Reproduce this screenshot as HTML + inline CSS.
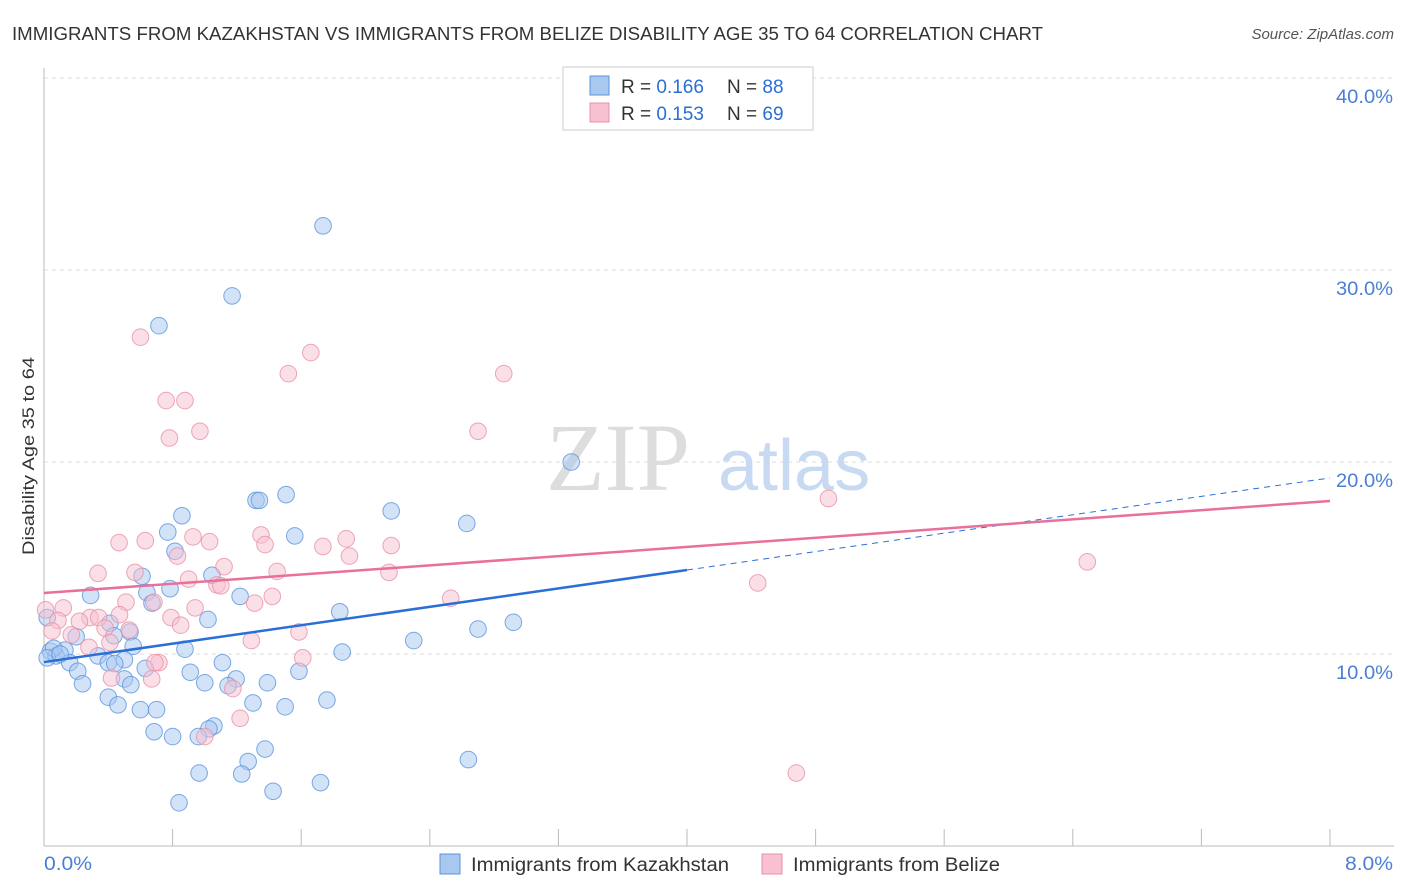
<!DOCTYPE html>
<html><head><meta charset="utf-8"><style>
body{margin:0;background:#fff;font-family:"Liberation Sans",sans-serif;}
svg{display:block}
</style></head><body>
<svg id="chart" width="1406" height="892" viewBox="0 0 1406 892">
<text x="12" y="40" font-size="18" fill="#333" textLength="1031" lengthAdjust="spacingAndGlyphs">IMMIGRANTS FROM KAZAKHSTAN VS IMMIGRANTS FROM BELIZE DISABILITY AGE 35 TO 64 CORRELATION CHART</text>
<text x="1394" y="39" font-size="15" fill="#555" font-style="italic" text-anchor="end">Source: ZipAtlas.com</text>
<g id="grid"></g>
<text x="690" y="490" font-size="96" font-family="Liberation Serif,serif" fill="#ddd" text-anchor="end">ZIP</text>
<text x="718" y="490" font-size="72" fill="#c8daf2">atlas</text>
<line x1="44" y1="68" x2="44" y2="846" stroke="#bbb"/>
<line x1="44" y1="846" x2="1394" y2="846" stroke="#bbb"/>
<g id="ticks"></g>
<g id="ylabels"></g>
<text x="34" y="456" font-size="17" fill="#333" text-anchor="middle" transform="rotate(-90 34 456)" textLength="198" lengthAdjust="spacingAndGlyphs">Disability Age 35 to 64</text>
<text x="44" y="870" font-size="19" fill="#4a7fd4" textLength="48" lengthAdjust="spacingAndGlyphs">0.0%</text>
<text x="1345" y="870" font-size="19" fill="#4a7fd4" textLength="48" lengthAdjust="spacingAndGlyphs">8.0%</text>
<g id="blue"></g>
<g id="pink"></g>
<g id="lines"></g>
<g>
<rect x="563" y="67" width="250" height="63" fill="#fff" stroke="#ccc"/>
<rect x="590" y="76" width="19" height="19" fill="#a8c8f0" stroke="#5b93dd"/>
<rect x="590" y="103" width="19" height="19" fill="#f8c0d0" stroke="#e990a8"/>
<text x="621" y="93" font-size="19" fill="#333">R = <tspan fill="#2a6fd6">0.166</tspan></text>
<text x="727" y="93" font-size="19" fill="#333">N = <tspan fill="#2a6fd6">88</tspan></text>
<text x="621" y="120" font-size="19" fill="#333">R = <tspan fill="#2a6fd6">0.153</tspan></text>
<text x="727" y="120" font-size="19" fill="#333">N = <tspan fill="#2a6fd6">69</tspan></text>
</g>
<g>
<rect x="440" y="854" width="20" height="20" fill="#a8c8f0" stroke="#5b93dd"/>
<text x="471" y="871" font-size="19" fill="#333" textLength="258" lengthAdjust="spacingAndGlyphs">Immigrants from Kazakhstan</text>
<rect x="762" y="854" width="20" height="20" fill="#f8c0d0" stroke="#e990a8"/>
<text x="793" y="871" font-size="19" fill="#333" textLength="207" lengthAdjust="spacingAndGlyphs">Immigrants from Belize</text>
</g>
</svg>
<script>
const blueX=[1.736,1.17,0.715,3.28,1.506,1.319,1.34,2.16,2.63,0.858,0.77,1.56,0.815,0.61,1.045,0.784,0.64,0.29,1.22,0.672,1.84,1.02,0.41,2.92,2.7,0.535,0.435,0.2,2.3,0.555,0.877,1.855,0.13,0.04,0.075,0.336,0.5,0.4,0.44,0.16,1.11,0.63,0.21,0.91,1.586,0.5,1.195,1.0,1.39,0.54,0.24,1.145,0.4,1.76,1.3,0.46,1.5,0.6,0.7,1.057,1.026,0.685,0.8,0.96,1.375,1.27,2.64,0.965,1.23,1.72,1.425,0.84,0.02,0.06,0.02,0.1];
const blueY=[32.3,28.65,27.1,20.0,18.3,18.0,18.0,17.45,16.8,17.2,16.35,16.15,15.35,14.05,14.1,13.4,13.2,13.05,13.0,12.65,12.2,11.8,11.6,11.65,11.3,11.15,10.95,10.9,10.7,10.4,10.25,10.1,10.2,10.15,9.9,9.9,9.7,9.55,9.5,9.55,9.55,9.25,9.1,9.05,9.1,8.7,8.7,8.5,8.5,8.4,8.45,8.35,7.75,7.6,7.45,7.35,7.25,7.1,7.1,6.25,6.1,5.95,5.7,5.7,5.05,4.4,4.5,3.8,3.75,3.3,2.85,2.25,11.9,10.3,9.8,10.0];
const pinkX=[0.6,1.66,1.52,2.86,0.76,0.877,0.97,0.78,2.7,4.88,6.49,0.467,0.63,0.927,1.03,1.35,1.375,1.735,1.88,1.9,2.16,0.83,0.336,0.566,1.12,1.45,2.146,0.9,1.076,1.1,4.44,1.42,2.53,0.684,0.51,1.31,0.94,0.12,0.47,0.79,0.286,0.34,0.22,0.087,0.85,0.38,0.53,1.586,0.17,1.29,0.41,0.28,0.715,0.69,1.61,0.42,0.67,1.175,1.22,1.0,4.68,0.01,0.05];
const pinkY=[26.5,25.7,24.6,24.6,23.2,23.2,21.6,21.25,21.6,18.1,14.8,15.8,15.9,16.1,15.85,16.2,15.7,15.6,16.0,15.1,15.65,15.1,14.2,14.25,14.55,14.3,14.25,13.9,13.6,13.55,13.7,13.0,12.9,12.7,12.7,12.65,12.4,12.4,12.05,11.9,11.9,11.9,11.7,11.75,11.5,11.35,11.25,11.15,11.0,10.7,10.6,10.35,9.55,9.55,9.8,8.75,8.7,8.2,6.65,5.7,3.8,12.3,11.2];
const blueTrend=[9.58,19.17];
const pinkTrend=[13.18,17.97];
const yTicks=[10,20,30,40];
const NS='http://www.w3.org/2000/svg';
const sx=v=>44+v*160.75, sy=v=>846-v*19.2;
function mk(tag,attrs,parent){const e=document.createElementNS(NS,tag);for(const k in attrs)e.setAttribute(k,attrs[k]);parent.appendChild(e);return e;}
const grid=document.getElementById('grid'),yl=document.getElementById('ylabels'),tk=document.getElementById('ticks');
yTicks.forEach(t=>{
 const l=mk('line',{x1:44,x2:1394,y1:sy(t),y2:sy(t),stroke:'#ddd','stroke-dasharray':'4,4'},grid);
 
 
 const tx=mk('text',{x:1336,y:sy(t)+25,'font-size':19,fill:'#4a7fd4',textLength:57,lengthAdjust:'spacingAndGlyphs'},yl);
 tx.textContent=t.toFixed(1)+'%';
 
 
});
for(let i=0;i<=10;i++){
 const l=mk('line',{x1:sx(i*0.8),x2:sx(i*0.8),y1:829,y2:846,stroke:'#bbb'},tk);
 
 
}
function pts(xs,ys,g,fill,stroke,name){
 xs.forEach((x,i)=>{
  const c=mk('circle',{cx:sx(x),cy:sy(ys[i]),r:8.3,fill:fill,'fill-opacity':0.5,stroke:stroke,'stroke-opacity':0.8,'stroke-width':1},g);
  
  
 });
}
pts(blueX,blueY,document.getElementById('blue'),'#a8c8f0','#5b93dd','kazakhstan-point');
pts(pinkX,pinkY,document.getElementById('pink'),'#f8c0d0','#e990a8','belize-point');
const lg=document.getElementById('lines');
const bAt=x=>blueTrend[0]+(blueTrend[1]-blueTrend[0])*x/8;
let l1=mk('line',{x1:sx(0),y1:sy(bAt(0)),x2:sx(4),y2:sy(bAt(4)),stroke:'#2a6fd6','stroke-width':2.5},lg);


let l2=mk('line',{x1:sx(4),y1:sy(bAt(4)),x2:sx(8),y2:sy(bAt(8)),stroke:'#2a6fd6','stroke-width':1,'stroke-dasharray':'6,5'},lg);


let l3=mk('line',{x1:sx(0),y1:sy(pinkTrend[0]),x2:sx(8),y2:sy(pinkTrend[1]),stroke:'#e8709a','stroke-width':2.5},lg);


</script>
</body></html>
